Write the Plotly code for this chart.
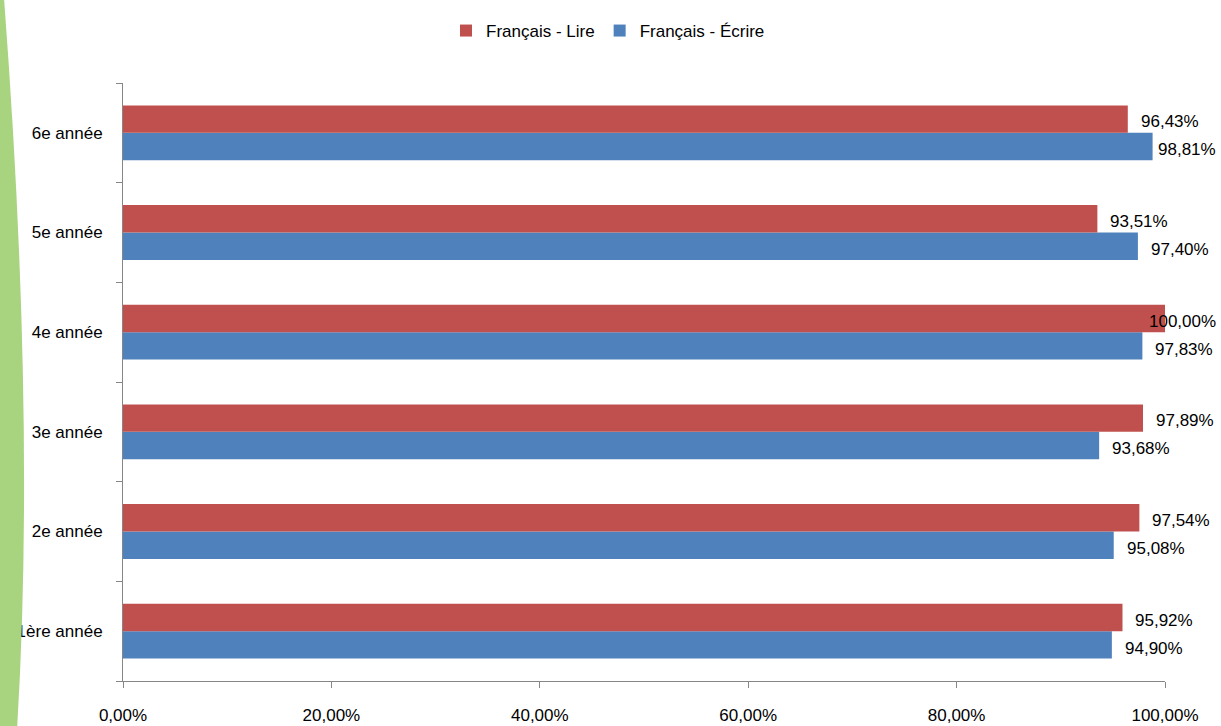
import plotly.graph_objects as go

categories = ["1ère année", "2e année", "3e année", "4e année", "5e année", "6e année"]
lire = [95.92, 97.54, 97.89, 100.00, 93.51, 96.43]
ecrire = [94.90, 95.08, 93.68, 97.83, 97.40, 98.81]
x_tick_vals = [0, 20, 40, 60, 80, 100]
x_tick_text = ["0,00%", "20,00%", "40,00%", "60,00%", "80,00%", "100,00%"]

RED = "#C0504D"
BLUE = "#4F81BD"
FONT = "Liberation Sans"

# plot area in pixels
W, H = 1221, 726
L, R, T, B = 123, 56, 83, 45
PW, PH = W - L - R, H - T - B


def px(xp):
    return (xp - L) / PW


def py(yp):
    return (H - B - yp) / PH


def fmt(v):
    return f"{v:.2f}".replace(".", ",") + "%"


fig = go.Figure()
fig.add_trace(go.Bar(y=categories, x=ecrire, orientation="h", name="Français - Écrire",
                     marker=dict(color=BLUE, line=dict(width=0)), legendrank=2,
                     hoverinfo="skip"))
fig.add_trace(go.Bar(y=categories, x=lire, orientation="h", name="Français - Lire",
                     marker=dict(color=RED, line=dict(width=0)), legendrank=1,
                     hoverinfo="skip"))

annotations = []
cap = (1218 - L) / PW * 100
lab_extra = (11 + 62) / PW * 100
for cat, vl, ve in zip(categories, lire, ecrire):
    for v, ys in ((vl, 11), (ve, -17)):
        annotations.append(dict(x=min(v + lab_extra, cap) / 100, y=cat, xref="paper", yref="y",
                                text=fmt(v), showarrow=False, xanchor="right",
                                yanchor="middle", yshift=ys,
                                font=dict(family=FONT, size=17, color="#000000")))

green_path = (f"M {px(-6)},{py(-2)} L {px(4)},{py(-2)} "
              f"Q {px(36)},{py(420)} {px(17)},{py(730)} L {px(-6)},{py(730)} Z")

fig.update_layout(
    width=W, height=H,
    margin=dict(l=L, r=R, t=T, b=B, autoexpand=False),
    paper_bgcolor="white", plot_bgcolor="white",
    barmode="group", bargap=0.45, bargroupgap=0,
    font=dict(family=FONT, size=17, color="#000000"),
    showlegend=True,
    legend=dict(orientation="h", x=px(608), xanchor="center", y=py(31), yanchor="middle",
                font=dict(family=FONT, size=17), itemwidth=30, tracegroupgap=0,
                bgcolor="rgba(0,0,0,0)"),
    xaxis=dict(range=[0, 100], tickvals=x_tick_vals, ticktext=x_tick_text,
               showgrid=False, zeroline=False, showline=True, linecolor="#868686",
               linewidth=1, ticks="outside", ticklen=6, tickcolor="#868686",
               ticklabelstandoff=13, tickfont=dict(family=FONT, size=17), automargin=False),
    yaxis=dict(categoryorder="array", categoryarray=categories, showgrid=False,
               zeroline=False, showline=True, linecolor="#868686", linewidth=1,
               ticks="outside", ticklen=6, tickcolor="#868686", tickson="boundaries",
               ticklabelstandoff=16, tickfont=dict(family=FONT, size=17), automargin=False),
    annotations=annotations,
    shapes=[dict(type="path", path=green_path, xref="paper", yref="paper",
                 fillcolor="#A9D47F", line=dict(width=0), layer="above")],
)

fig.write_html("out.html", config={"displayModeBar": False},
               post_script="document.body.style.margin='0px';")
